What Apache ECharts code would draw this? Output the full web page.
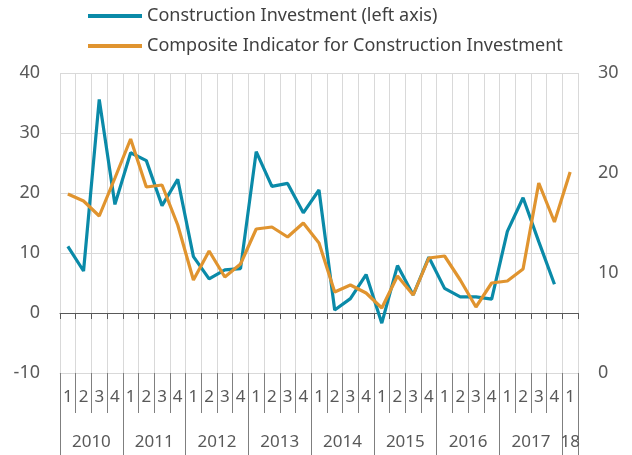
<!DOCTYPE html>
<html>
<head>
<meta charset="utf-8">
<script src="https://cdn.jsdelivr.net/npm/echarts@6/dist/echarts.min.js"></script>
<style>
  html, body { margin: 0; padding: 0; background: #fff; }
  #chart { width: 632px; height: 455px; }
</style>
</head>
<body>
<div id="chart"></div>
<script>
// quarters 2010Q1 .. 2018Q1
var quarters = ['1', '2', '3', '4', '1', '2', '3', '4', '1', '2', '3', '4', '1', '2', '3', '4',
  '1', '2', '3', '4', '1', '2', '3', '4', '1', '2', '3', '4', '1', '2', '3', '4', '1']
var years = ['2010', '2011', '2012', '2013', '2014', '2015', '2016', '2017', '18']

// Construction Investment (left axis), last quarter not yet available
var investment = [11.1, 7.0, 35.6, 18.1, 26.7, 25.4, 17.9, 22.3, 9.4, 5.7, 7.2, 7.4,
  26.9, 21.1, 21.6, 16.7, 20.5, 0.5, 2.4, 6.4, -1.7, 7.9, 3.0, 9.3,
  4.1, 2.7, 2.7, 2.3, 13.6, 19.2, 11.9, 4.8]
// Composite Indicator (right axis)
var composite = [17.9, 17.2, 15.7, 19.5, 23.4, 18.6, 18.8, 14.8, 9.3, 12.2, 9.6, 10.9,
  14.4, 14.6, 13.6, 15.0, 13.0, 8.1, 8.8, 8.0, 6.5, 9.7, 7.8, 11.5,
  11.7, 9.3, 6.6, 9.0, 9.2, 10.4, 19.0, 15.1, 20.1]

var leftTicks = { min: -10, max: 40, interval: 10 }
var rightTicks = { min: 0, max: 30, interval: 10 }

// half-quarter slots for the year row (year label sits in the middle of its 4 quarters)
var yearSlots = []
for (var i = 0; i <= quarters.length * 2; i++) yearSlots.push('')
years.forEach(function (y, k) {
  var start = k * 8
  var len = Math.min(4, quarters.length - k * 4)
  yearSlots[start + len] = y
})
function isYearBoundary (i) {
  return i % 8 === 0 || i === yearSlots.length - 1
}

var font = 'Noto Sans'
var grey = '#595959'
var chart = echarts.init(document.getElementById('chart'))
chart.setOption({
  animation: false,
  textStyle: { fontFamily: font },
  legend: {
    orient: 'vertical',
    left: 83,
    top: 0,
    itemWidth: 54,
    itemHeight: 4,
    itemGap: 8,
    icon: 'rect',
    textStyle: { fontSize: 18, color: '#404040', lineHeight: 22, fontFamily: font },
    data: ['Construction Investment (left axis)', 'Composite Indicator for Construction Investment']
  },
  grid: { left: 60, right: 54, top: 73, bottom: 82, containLabel: false },
  xAxis: [
    {
      type: 'category',
      data: quarters,
      axisLine: { onZero: true, lineStyle: { color: grey, width: 1 } },
      axisTick: { show: true, length: 6, lineStyle: { color: grey } },
      axisLabel: { show: false },
      splitLine: { show: true, lineStyle: { color: '#d9d9d9', width: 1 } }
    },
    {
      type: 'category',
      data: quarters,
      position: 'bottom',
      axisLine: { onZero: false, show: true, lineStyle: { color: '#d9d9d9' } },
      axisTick: { show: true, length: 40, lineStyle: { color: '#7f7f7f' } },
      axisLabel: { show: true, interval: 0, margin: 16, fontSize: 17, color: grey, fontFamily: font },
      splitLine: { show: false }
    },
    {
      type: 'category',
      data: yearSlots,
      boundaryGap: false,
      position: 'bottom',
      axisLine: { onZero: false, show: false },
      axisTick: {
        show: true,
        length: 82,
        interval: function (i) { return isYearBoundary(i) },
        lineStyle: { color: '#7f7f7f' }
      },
      axisLabel: {
        show: true,
        margin: 61,
        fontSize: 17,
        color: grey,
        fontFamily: font,
        interval: function (i, v) { return v !== '' }
      },
      splitLine: { show: false }
    }
  ],
  yAxis: [
    {
      type: 'value',
      min: leftTicks.min,
      max: leftTicks.max,
      interval: leftTicks.interval,
      axisLine: { show: false },
      axisTick: { show: false },
      axisLabel: { margin: 20, fontSize: 18, color: grey, fontFamily: font },
      splitLine: { show: true, lineStyle: { color: '#d9d9d9', width: 1 } }
    },
    {
      type: 'value',
      min: rightTicks.min,
      max: rightTicks.max,
      interval: rightTicks.interval,
      axisLine: { show: false },
      axisTick: { show: false },
      axisLabel: { margin: 20, fontSize: 18, color: grey, fontFamily: font },
      splitLine: { show: false }
    }
  ],
  series: [
    {
      name: 'Construction Investment (left axis)',
      type: 'line',
      xAxisIndex: 0,
      yAxisIndex: 0,
      data: investment,
      symbol: 'none',
      color: '#0a8aa8',
      lineStyle: { width: 3.2, color: '#0a8aa8' },
      z: 3
    },
    {
      name: 'Composite Indicator for Construction Investment',
      type: 'line',
      xAxisIndex: 0,
      yAxisIndex: 1,
      data: composite,
      symbol: 'none',
      color: '#e0942f',
      lineStyle: { width: 3.2, color: '#e0942f' },
      z: 4
    }
  ]
})
</script>
</body>
</html>
